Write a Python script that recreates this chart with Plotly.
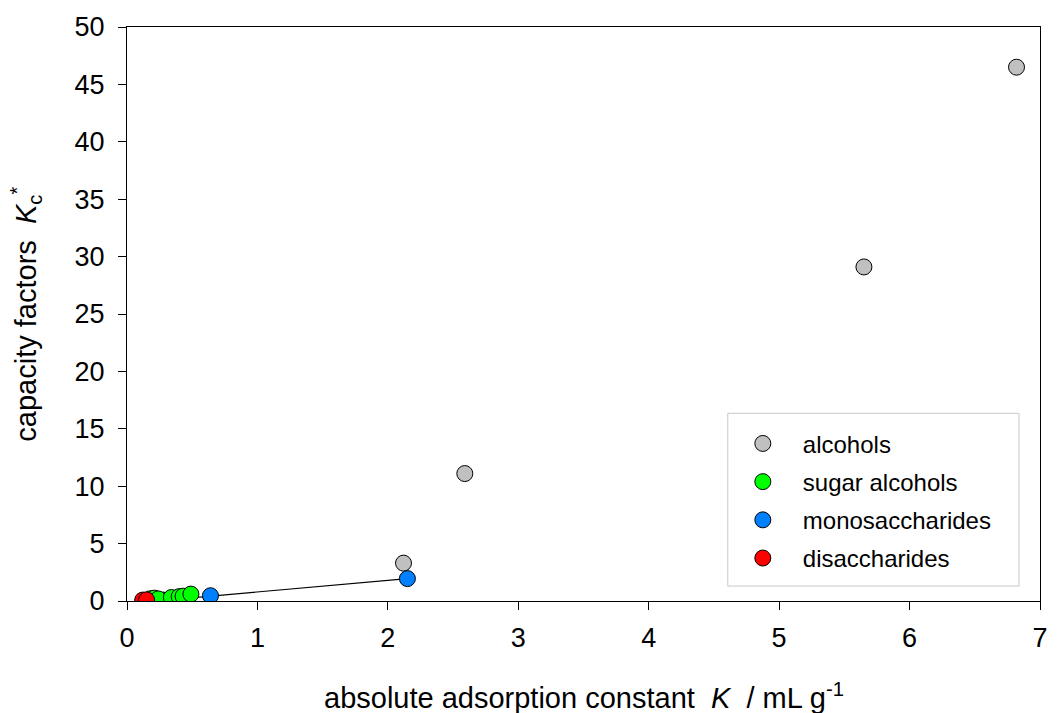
import numpy as np
import plotly.graph_objects as go

# Absolute adsorption constant K (mL/g) vs. capacity factor Kc*
alcohols_x = [2.12, 2.59, 5.65, 6.82]
alcohols_y = [3.3, 11.1, 29.1, 46.5]

sugar_alcohols_x = [0.18, 0.21, 0.24, 0.34, 0.40, 0.43, 0.49]
sugar_alcohols_y = [0.20, 0.25, 0.18, 0.30, 0.38, 0.42, 0.60]

monosaccharides_x = [0.28, 0.40, 0.64, 2.15]
monosaccharides_y = [0.08, 0.12, 0.46, 1.95]

disaccharides_x = [0.12, 0.15]
disaccharides_y = [0.08, 0.10]

x_ticks = [0, 1, 2, 3, 4, 5, 6, 7]
y_ticks = [0, 5, 10, 15, 20, 25, 30, 35, 40, 45, 50]

FONT = "Liberation Sans, Arial, sans-serif"

fig = go.Figure()

# linear fit through the monosaccharide series
slope, intercept = np.polyfit(monosaccharides_x, monosaccharides_y, 1)
fit_x = np.array([0.0, max(monosaccharides_x)])
fig.add_trace(go.Scatter(
    x=fit_x, y=slope * fit_x + intercept, mode="lines",
    line=dict(color="black", width=1.2), showlegend=False, hoverinfo="skip",
))

# drawing order (back to front) differs from the legend order
series = [
    ("alcohols", alcohols_x, alcohols_y, "#c0c0c0", 1),
    ("monosaccharides", monosaccharides_x, monosaccharides_y, "#0080ff", 3),
    ("sugar alcohols", sugar_alcohols_x, sugar_alcohols_y, "#00ff00", 2),
    ("disaccharides", disaccharides_x, disaccharides_y, "#ff0000", 4),
]
for name, xs, ys, color, rank in series:
    fig.add_trace(go.Scatter(
        x=xs, y=ys, mode="markers", name=name, legendgroup=name,
        legendrank=rank,
        marker=dict(size=16, color=color, line=dict(color="black", width=1)),
    ))

axis_common = dict(
    showgrid=False, zeroline=False, showline=True, linecolor="black",
    linewidth=1, mirror=True, ticks="outside", ticklen=8, tickcolor="black",
    tickfont=dict(family=FONT, size=27, color="black"),
)
fig.update_xaxes(range=[0, 7], tickvals=x_ticks, ticklabelstandoff=5,
                 **axis_common)
fig.update_yaxes(range=[0, 50], tickvals=y_ticks, ticklabelstandoff=8,
                 **axis_common)

# frame around the legend entries
fig.add_shape(
    type="rect", xref="paper", yref="paper",
    x0=0.658, x1=0.977, y0=0.026, y1=0.327,
    line=dict(color="#c8c8c8", width=1), fillcolor="white", layer="below",
)

fig.update_layout(
    width=1060, height=713,
    margin=dict(l=127, r=12, t=26, b=112),
    paper_bgcolor="white", plot_bgcolor="white",
    font=dict(family=FONT, color="black"),
    legend=dict(
        x=0.6526, y=0.313, xanchor="left", yanchor="top",
        bgcolor="rgba(0,0,0,0)", borderwidth=0,
        font=dict(family=FONT, size=24, color="black"),
        tracegroupgap=4, itemwidth=70,
    ),
    annotations=[
        dict(
            text="absolute adsorption constant  <i>K</i>  / mL g<sup>-1</sup>",
            xref="paper", yref="paper", x=0.5, y=-0.165,
            xanchor="center", yanchor="middle", showarrow=False,
            font=dict(family=FONT, size=29, color="black"),
        ),
        dict(
            text="capacity factors  <i>K</i><sub>c</sub><sup>*</sup>",
            xref="paper", yref="paper", x=-0.111, y=0.5,
            xanchor="center", yanchor="middle", textangle=-90, showarrow=False,
            font=dict(family=FONT, size=29, color="black"),
        ),
    ],
)

fig.write_html("out.html")
